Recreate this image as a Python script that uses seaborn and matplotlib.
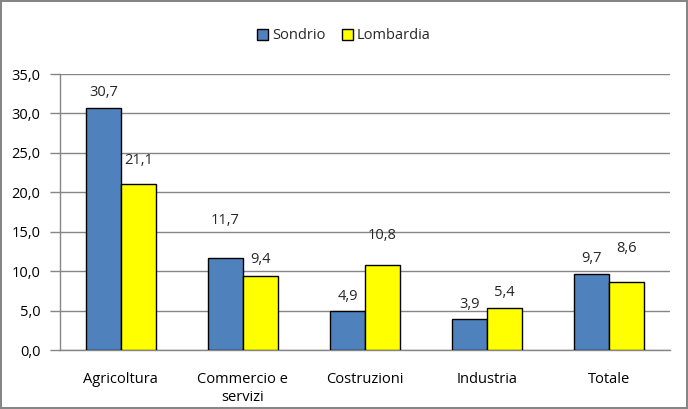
import matplotlib
matplotlib.use('Agg')
import matplotlib.pyplot as plt
import numpy as np
import pandas as pd
import seaborn as sns

categories = ['Agricoltura', 'Commercio e\nservizi', 'Costruzioni', 'Industria', 'Totale']
sondrio = [30.7, 11.7, 4.9, 3.9, 9.7]
lombardia = [21.1, 9.4, 10.8, 5.4, 8.6]
series = ['Sondrio', 'Lombardia']

# label gaps above bar tops (points), as placed in the original
gap_sondrio = [11, 27, 11, 11, 11]
gap_lombardia = [17, 12, 21, 11, 24]

FS = 10.5


def fmt(v):
    return ('%.1f' % v).replace('.', ',')


def setup():
    sns.set_theme(style='white')
    plt.rcParams['font.family'] = ['Open Sans', 'DejaVu Sans']
    plt.rcParams['font.size'] = FS


def draw():
    df = pd.DataFrame({
        'cat': categories * 2,
        'serie': [series[0]] * 5 + [series[1]] * 5,
        'val': sondrio + lombardia,
    })

    fig = plt.figure(figsize=(6.88, 4.09), dpi=100)
    fig.patch.set_edgecolor('#868686')
    fig.patch.set_linewidth(1.5)
    ax = fig.add_axes([0.087, 0.144, 0.887, 0.675])

    sns.barplot(data=df, x='cat', y='val', hue='serie', order=categories,
                hue_order=series, palette=['#4F81BD', '#FFFF00'],
                width=0.575, edgecolor='black', linewidth=1.0,
                errorbar=None, ax=ax, zorder=3, saturation=1)

    ax.set_ylim(0, 35)
    ax.set_yticks(np.arange(0, 35.1, 5))
    ax.set_yticklabels([fmt(v) for v in np.arange(0, 35.1, 5)], fontsize=FS)
    ax.set_xlim(-0.5, 4.5)
    ax.yaxis.grid(True, color='#868686', linewidth=1)
    ax.set_axisbelow(True)
    ax.set_xlabel('')
    ax.set_ylabel('')
    for s in ['top', 'right']:
        ax.spines[s].set_visible(False)
    for s in ['left', 'bottom']:
        ax.spines[s].set_color('#868686')
        ax.spines[s].set_linewidth(1)
    ax.tick_params(axis='y', which='both', left=True, length=7, color='#868686',
                   width=1, pad=7, labelcolor='black')
    ax.tick_params(axis='x', bottom=False, pad=10, labelsize=FS, labelcolor='black')
    for lbl in ax.get_xticklabels():
        lbl.set_linespacing(1.25)

    for cont, vals, gaps in zip(ax.containers, [sondrio, lombardia],
                                [gap_sondrio, gap_lombardia]):
        for bar, v, g in zip(cont, vals, gaps):
            ax.annotate(fmt(v), (bar.get_x() + bar.get_width() / 2, bar.get_height()),
                        xytext=(0, g), textcoords='offset points',
                        ha='center', va='center', fontsize=FS)

    ax.legend(loc='center', bbox_to_anchor=(0.5, 0.912), bbox_transform=fig.transFigure,
              ncol=2, frameon=False, fontsize=FS, handlelength=0.75,
              handleheight=0.75, handletextpad=0.3, columnspacing=1.1)
    for h in ax.get_legend().legend_handles:
        h.set_edgecolor('black')
        h.set_linewidth(1)

    fig.savefig('out.png', dpi=100, edgecolor=fig.get_edgecolor())
    plt.close(fig)


if __name__ == '__main__':
    setup()
    draw()
